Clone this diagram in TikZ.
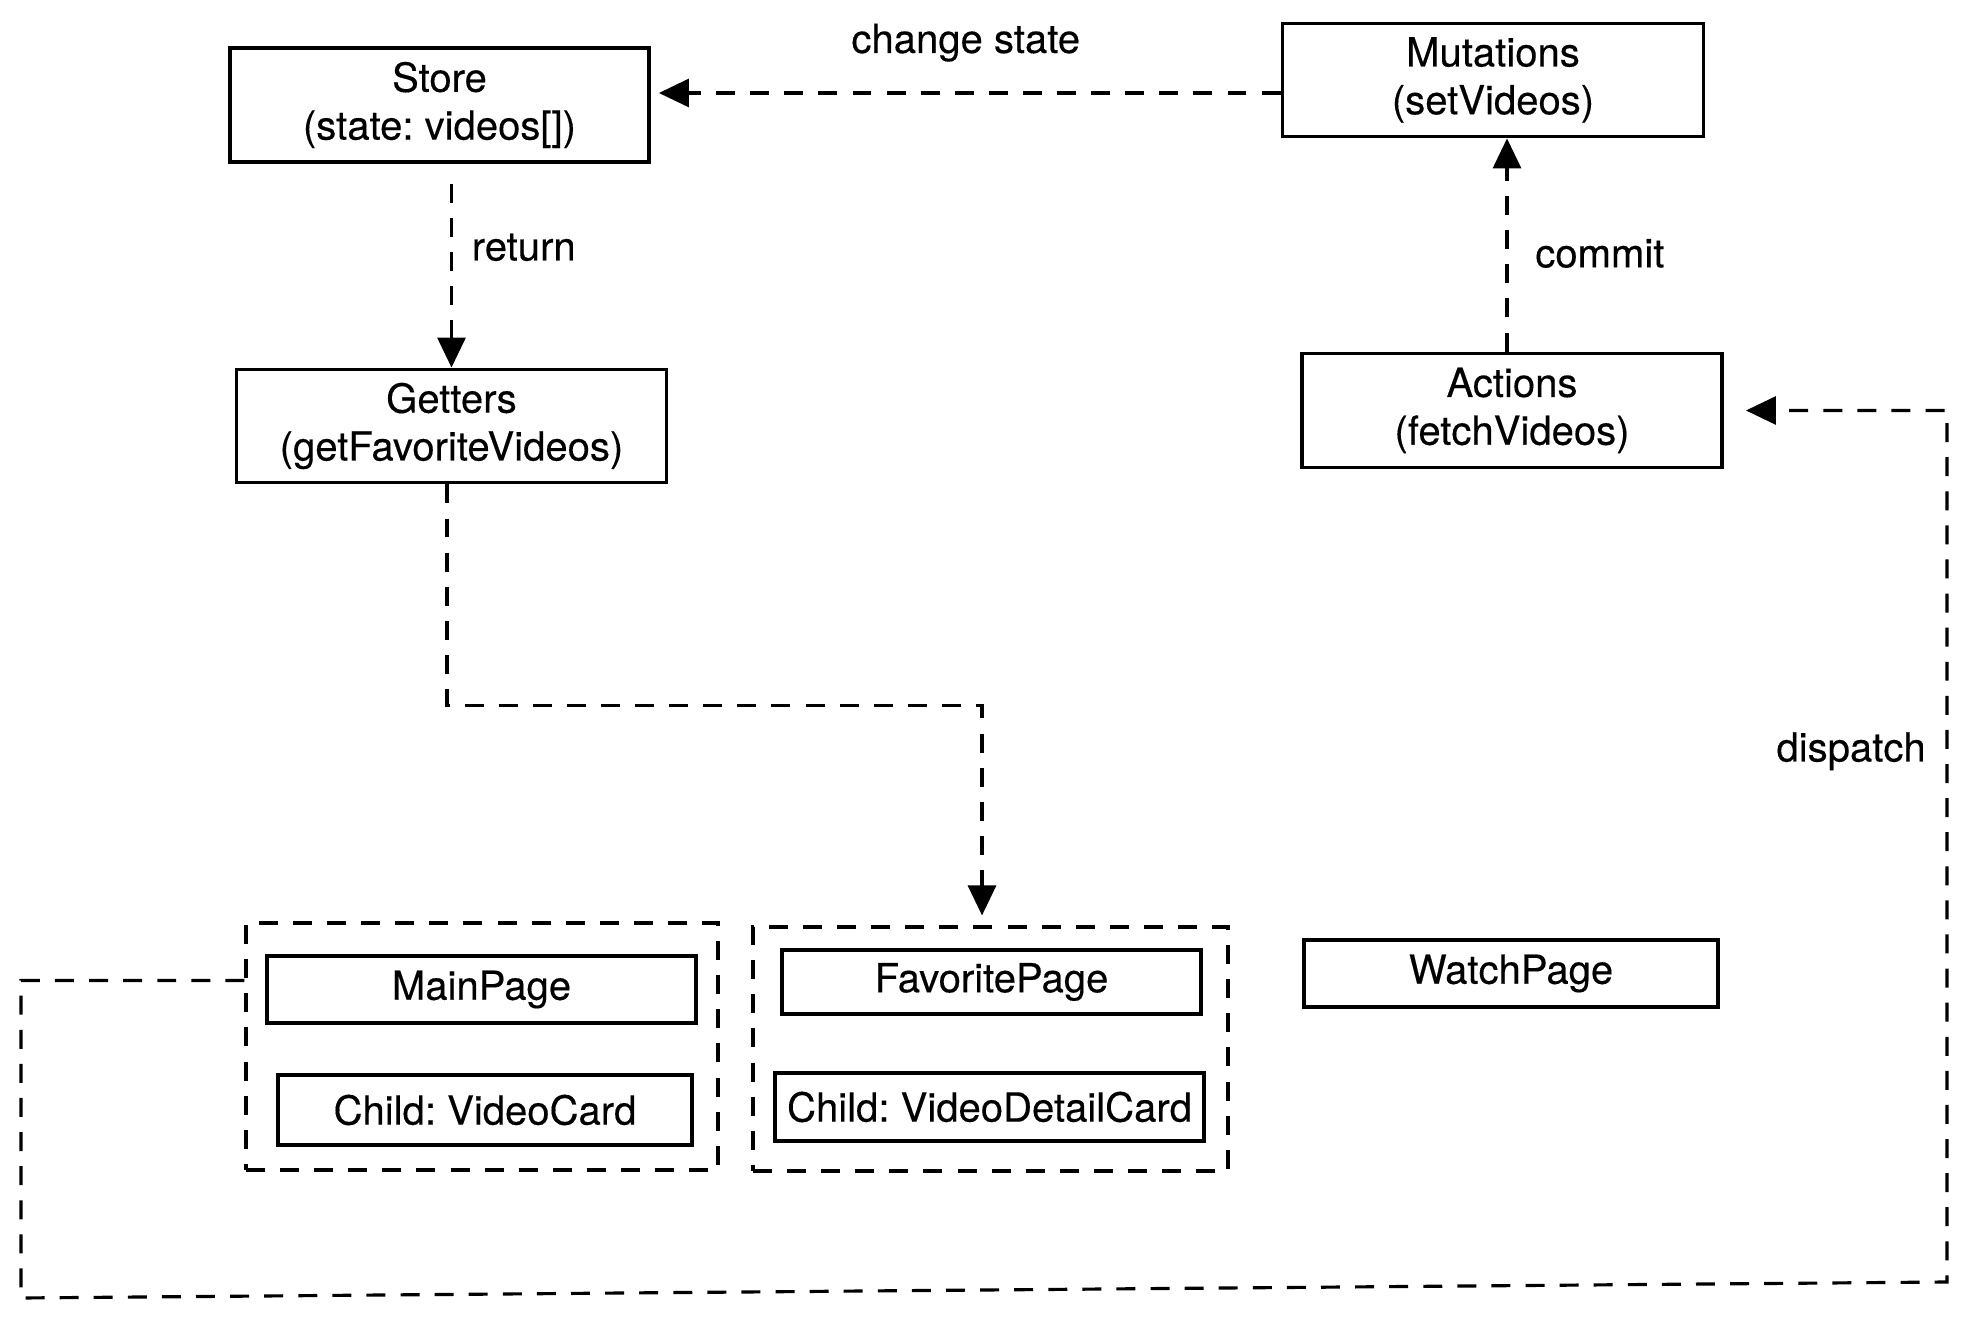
\documentclass[tikz,border=0pt]{standalone}
\usepackage{fontspec}
\setmainfont{TeX Gyre Heros}[FakeBold=0.3]
\usepackage{tikz}
\usetikzlibrary{arrows.meta}
\frenchspacing

\begin{document}
\begin{tikzpicture}[
  font=\fontsize{11.4}{13.6}\selectfont,
  box/.style={draw, line width=1.1pt, align=center, inner sep=0pt},
  group/.style={draw, line width=0.9pt, dash pattern=on 5.4pt off 4.3pt, inner sep=0pt},
  link/.style={line width=0.9pt, dash pattern=on 5.4pt off 4.3pt},
  flow/.style={link, -{Triangle[length=3mm,width=2.8mm]}}
]
\useasboundingbox (0,0) rectangle (19.72,13.19);

% Store side
\node[box, minimum width=4.19cm, minimum height=1.14cm] (store) at (4.395,12.14) {Store\\(state: videos[])};
\node[box, minimum width=4.21cm, minimum height=1.13cm] (mutations) at (14.93,12.39) {Mutations\\(setVideos)};
\node[box, minimum width=4.30cm, minimum height=1.13cm] (getters) at (4.515,8.93) {Getters\\(getFavoriteVideos)};
\node[box, minimum width=4.20cm, minimum height=1.14cm] (actions) at (15.12,9.085) {Actions\\(fetchVideos)};

% Pages
\node[group, minimum width=4.72cm, minimum height=2.47cm] (maingroup) at (4.82,2.725) {};
\node[box, minimum width=4.29cm, minimum height=0.67cm] (mainpage) at (4.815,3.295) {MainPage};
\node[box, minimum width=4.14cm, minimum height=0.70cm] (videocard) at (4.85,2.09) {Child: VideoCard};

\node[group, minimum width=4.75cm, minimum height=2.44cm] (favgroup) at (9.905,2.70) {};
\node[box, minimum width=4.19cm, minimum height=0.64cm] (favpage) at (9.915,3.37) {FavoritePage};
\node[box, minimum width=4.29cm, minimum height=0.68cm] (detailcard) at (9.895,2.12) {Child: VideoDetailCard};

\node[box, minimum width=4.14cm, minimum height=0.67cm] (watchpage) at (15.11,3.455) {WatchPage};

% Flows
\draw[flow, shorten >=0.08cm] ([yshift=-1.3mm]mutations.west) -- node[midway, above=1.8mm] (changelbl) {change state} ([yshift=-1.3mm]mutations.west -| store.east);
\draw[flow, shorten <=0.2cm] (getters.north |- store.south) -- node[pos=0.41, right=0.7mm] (returnlbl) {return} (getters.north);
\draw[flow] ([xshift=-0.5mm]actions.north) -- node[pos=0.46, right=1.5mm] (commitlbl) {commit} ([xshift=-0.5mm]actions.north |- mutations.south);
\draw[flow, shorten >=0.1cm] ([xshift=-0.45mm]getters.south) -- ++(0,-2.21) -| ([xshift=-0.85mm]favgroup.north);

\coordinate (sw) at (0.21,0.21);
\coordinate (se) at (19.47,0.37);
\draw[flow] ([yshift=0.9mm]maingroup.west |- mainpage.west) -| (sw) -- (se) -- node[pos=0.609, left=0.8mm] (dispatchlbl) {dispatch} (se |- actions.east) -- ([xshift=2.2mm]actions.east);
\end{tikzpicture}
\end{document}
